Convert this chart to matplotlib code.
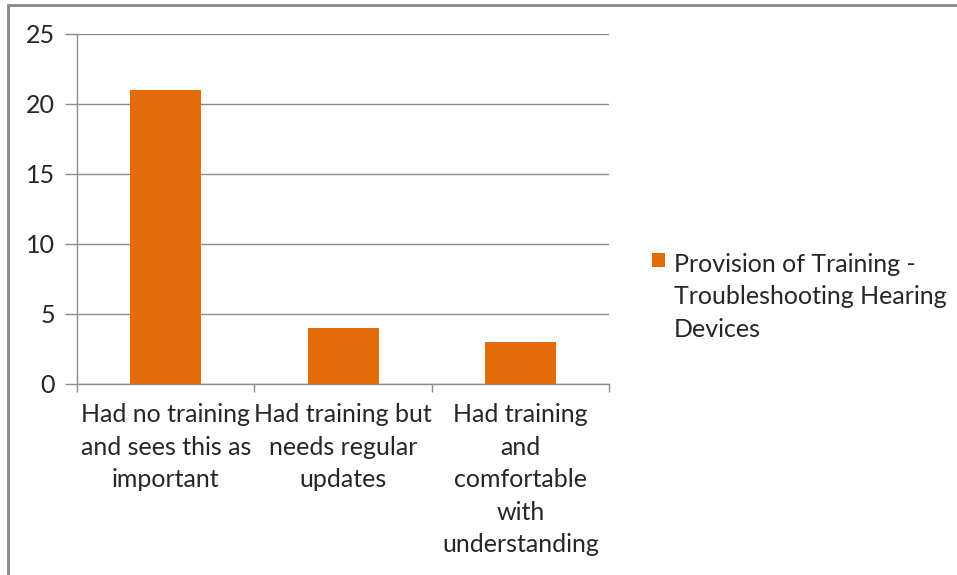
import matplotlib.pyplot as plt
from matplotlib.offsetbox import HPacker
from matplotlib.patches import Rectangle

plt.rcParams['font.family'] = ['Lato', 'DejaVu Sans']

# --- data ---
categories = ["Had no training\nand sees this as\nimportant",
              "Had training but\nneeds regular\nupdates",
              "Had training\nand\ncomfortable\nwith\nunderstanding"]
values = [21, 4, 3]
series_name = "Provision of Training -\nTroubleshooting Hearing\nDevices"
yticks = [0, 5, 10, 15, 20, 25]

bar_color = '#E36C09'
grid_color = '#8C8C8C'
text_color = '#262626'
fs = 18
ls = 1.5

fig = plt.figure(figsize=(9.57, 5.75), dpi=100)
ax = fig.add_axes([0.0805, 0.3322, 0.556, 0.6087])

x = range(len(values))
ax.bar(x, values, width=0.4, color=bar_color, label=series_name, zorder=3)

ax.set_xlim(-0.5, len(values) - 0.5)
ax.set_ylim(0, 25)
ax.set_yticks(yticks)
ax.yaxis.grid(True, color=grid_color, linewidth=1, zorder=0)
ax.tick_params(axis='y', length=9, width=1, color=grid_color, labelsize=fs,
               labelcolor=text_color, pad=7)

# category labels at centres, tick marks at boundaries
ax.set_xticks(list(x))
ax.set_xticklabels(categories, fontsize=fs, color=text_color, linespacing=ls)
ax.tick_params(axis='x', length=0, pad=14)
ax.set_xticks([i - 0.5 for i in range(len(values) + 1)], minor=True)
ax.tick_params(axis='x', which='minor', length=6, width=1, color=grid_color)

for s in ['top', 'right']:
    ax.spines[s].set_visible(False)
for s in ['left', 'bottom']:
    ax.spines[s].set_color(grid_color)
    ax.spines[s].set_linewidth(1)

leg = ax.legend(loc='upper left', bbox_to_anchor=(652 / 957, 1 - 253 / 575),
                bbox_transform=fig.transFigure, frameon=False, fontsize=fs,
                handlelength=0.5, handleheight=0.5, handletextpad=0.36,
                borderpad=0, borderaxespad=0, labelspacing=0)
for t in leg.get_texts():
    t.set_color(text_color)
    t.set_linespacing(ls)
for hp in leg.findobj(HPacker):
    hp.align = 'top'

# outer chart border (partly cropped in the reference)
fig.patches.append(Rectangle((8 / 957, -0.1), 1.2, 1 - 5 / 575 + 0.1,
                             transform=fig.transFigure, fill=False,
                             edgecolor='#888888', linewidth=2))

fig.savefig('out.png', dpi=100)
